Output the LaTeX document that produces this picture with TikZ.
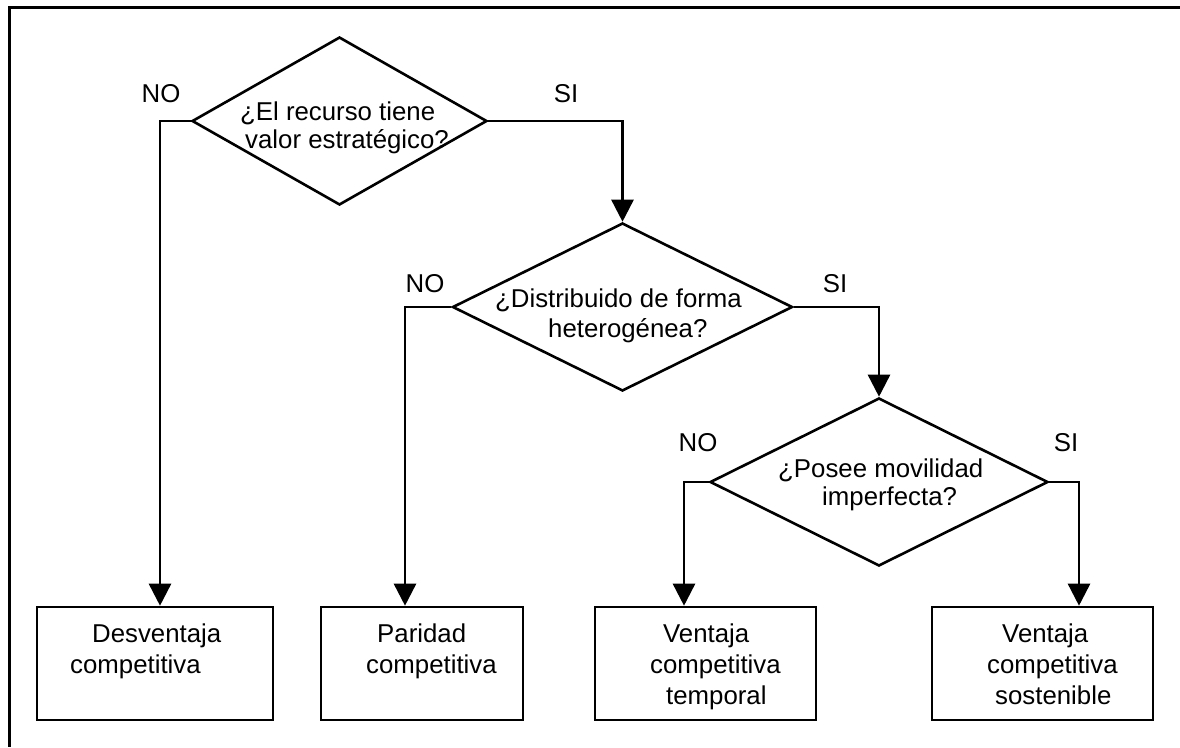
\documentclass[tikz,border=0pt]{standalone}
\usepackage{fontspec}
\setmainfont{Liberation Sans}
\usetikzlibrary{shapes.geometric,arrows.meta}
\begin{document}
\begin{tikzpicture}[x=1pt,y=-1pt,
  every node/.style={inner sep=0pt},
  txt/.style={font=\fontsize{25.8}{#1}\selectfont, align=left, anchor=base west},
  txt/.default=31,
  lbl/.style={font=\fontsize{25.8}{30}\selectfont, anchor=base},
  decision/.style={draw, line width=2.6pt, shape=diamond, minimum width=#1},
  decision/.default=300pt,
  result/.style={draw, line width=2.6pt, rectangle, minimum height=113pt},
  arr/.style={line width=2.6pt, -{Triangle[length=22pt,width=22pt]}},
  frame/.style={line width=3pt}]
\useasboundingbox (0,0) rectangle (1180,747);

% open frame: top and left rules only
\draw[frame] (1180,7) -- (9,7) -- (9,747);

% decisions
\node[decision=295pt, minimum height=168pt] (q1) at (339.5,121) {};
\node[decision=340pt, minimum height=168pt] (q2) at (622.5,307) {};
\node[decision=338pt, minimum height=168pt] (q3) at (879,482) {};

% text nodes are anchored on the baseline of their last line
\node[txt=28] (q1t) at (240,148) {¿El recurso tiene\\\hspace*{5pt}valor estratégico?};
\node[txt=30] (q2t) at (495,337) {¿Distribuido de forma\\\hspace*{53pt}heterogénea?};
\node[txt=28] (q3t) at (778,505) {¿Posee movilidad\\\hspace*{44pt}imperfecta?};

% outcomes
\node[result, minimum width=236pt] (b1) at (155,663.5) {};
\node[result, minimum width=202pt] (b2) at (422,663.5) {};
\node[result, minimum width=221pt] (b3) at (705.5,663.5) {};
\node[result, minimum width=221pt] (b4) at (1042.5,663.5) {};

\node[txt] (b1t) at (70,673) {\hspace*{22pt}Desventaja\\competitiva};
\node[txt] (b2t) at (366,673) {\hspace*{11pt}Paridad\\competitiva};
\node[txt] (b3t) at (650,704) {\hspace*{13pt}Ventaja\\competitiva\\\hspace*{16pt}temporal};
\node[txt] (b4t) at (987,704) {\hspace*{15pt}Ventaja\\competitiva\\\hspace*{8pt}sostenible};

% bend points of the NO / SI branches
\coordinate (k1) at (160,121);
\coordinate (k2) at (405,307);
\coordinate (k3) at (684,482);
\coordinate (k4) at (1079,482);

% connectors
\draw[arr] (q1.west) -- (k1) -- (k1 |- b1.north);
\draw[arr] (q1.east) -| (q2.north);
\draw[arr] (q2.west) -- (k2) -- (k2 |- b2.north);
\draw[arr] (q2.east) -| (q3.north);
\draw[arr] (q3.west) -- (k3) -- (k3 |- b3.north);
\draw[arr] (q3.east) -- (k4) -- (k4 |- b4.north);

% branch labels
\node[lbl] (n1) at (161,102) {NO};
\node[lbl] (s1) at (566,102) {SI};
\node[lbl] (n2) at (425,292) {NO};
\node[lbl] (s2) at (835,292) {SI};
\node[lbl] (n3) at (698,451) {NO};
\node[lbl] (s3) at (1066,451) {SI};
\end{tikzpicture}
\end{document}
